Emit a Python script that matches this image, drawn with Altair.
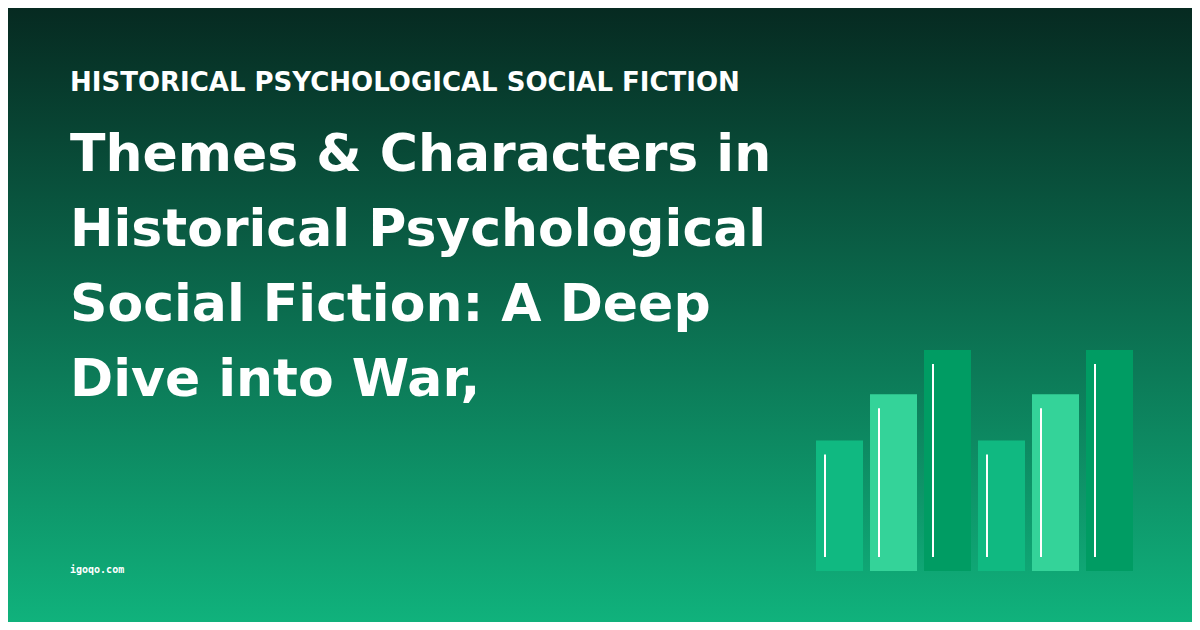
import altair as alt
import pandas as pd

# ---- data ----
categories = ["A1", "A2", "A3", "B1", "B2", "B3"]
values = [59, 80, 100, 59, 80, 100]
groups = ["low", "mid", "high", "low", "mid", "high"]
group_colors = ["#10b981", "#34d399", "#009c63"]
group_names = ["low", "mid", "high"]

kicker = "HISTORICAL PSYCHOLOGICAL SOCIAL FICTION"
title_lines = [
    "Themes & Characters in",
    "Historical Psychological",
    "Social Fiction: A Deep",
    "Dive into War,",
]
footer = "igoqo.com"

W, H = 1184, 614

df = pd.DataFrame({"cat": categories, "value": values, "grp": groups})

bg = alt.Chart(alt.Data(values=[{}])).mark_rect(
    color=alt.Gradient(
        gradient="linear",
        stops=[
            alt.GradientStop(color="#062a21", offset=0),
            alt.GradientStop(color="#0b6d4f", offset=0.5),
            alt.GradientStop(color="#10b27c", offset=1),
        ],
        x1=0, x2=0, y1=0, y2=1,
    )
).encode(x=alt.value(0), x2=alt.value(W), y=alt.value(0), y2=alt.value(H))

xscale = alt.Scale(domain=categories, range=[808, 1125], paddingInner=7 / 54, paddingOuter=0)
yscale = alt.Scale(domain=[0, 100], range=[563, 342])

bars = alt.Chart(df).mark_bar(cornerRadius=0).encode(
    x=alt.X("cat:N", scale=xscale, axis=None, sort=categories),
    y=alt.Y("value:Q", scale=yscale, axis=None),
    y2=alt.datum(0),
    color=alt.Color("grp:N", scale=alt.Scale(domain=group_names, range=group_colors), legend=None),
)

lines = alt.Chart(df).mark_rule(
    color="white", strokeWidth=2, xOffset=9, yOffset=14, y2Offset=-14
).encode(
    x=alt.X("cat:N", scale=xscale, axis=None, sort=categories, bandPosition=0),
    y=alt.Y("value:Q", scale=yscale, axis=None),
    y2=alt.datum(0),
)

kick = alt.Chart(alt.Data(values=[{"t": kicker}])).mark_text(
    font="DejaVu Sans", fontWeight="bold", fontSize=26, color="white",
    align="left", baseline="alphabetic",
).encode(text="t:N", x=alt.value(62), y=alt.value(83))

title = alt.Chart(alt.Data(values=[{"t": "\n".join(title_lines)}])).mark_text(
    font="DejaVu Sans", fontWeight="bold", fontSize=52, color="white",
    align="left", baseline="alphabetic", lineBreak="\n", lineHeight=75,
).encode(text="t:N", x=alt.value(62), y=alt.value(163))

foot = alt.Chart(alt.Data(values=[{"t": footer}])).mark_text(
    font="DejaVu Sans Mono", fontWeight="bold", fontSize=10, color="white",
    align="left", baseline="alphabetic",
).encode(text="t:N", x=alt.value(62), y=alt.value(565))

chart = alt.layer(bg, bars, lines, kick, title, foot).resolve_scale(
    x="shared", y="shared"
).properties(
    width=W, height=H, padding=0, autosize=alt.AutoSizeParams(type="none"),
    background="#062a21",
).configure_view(stroke=None)

chart.save("out.html", embed_options={"renderer": "svg", "actions": False})
